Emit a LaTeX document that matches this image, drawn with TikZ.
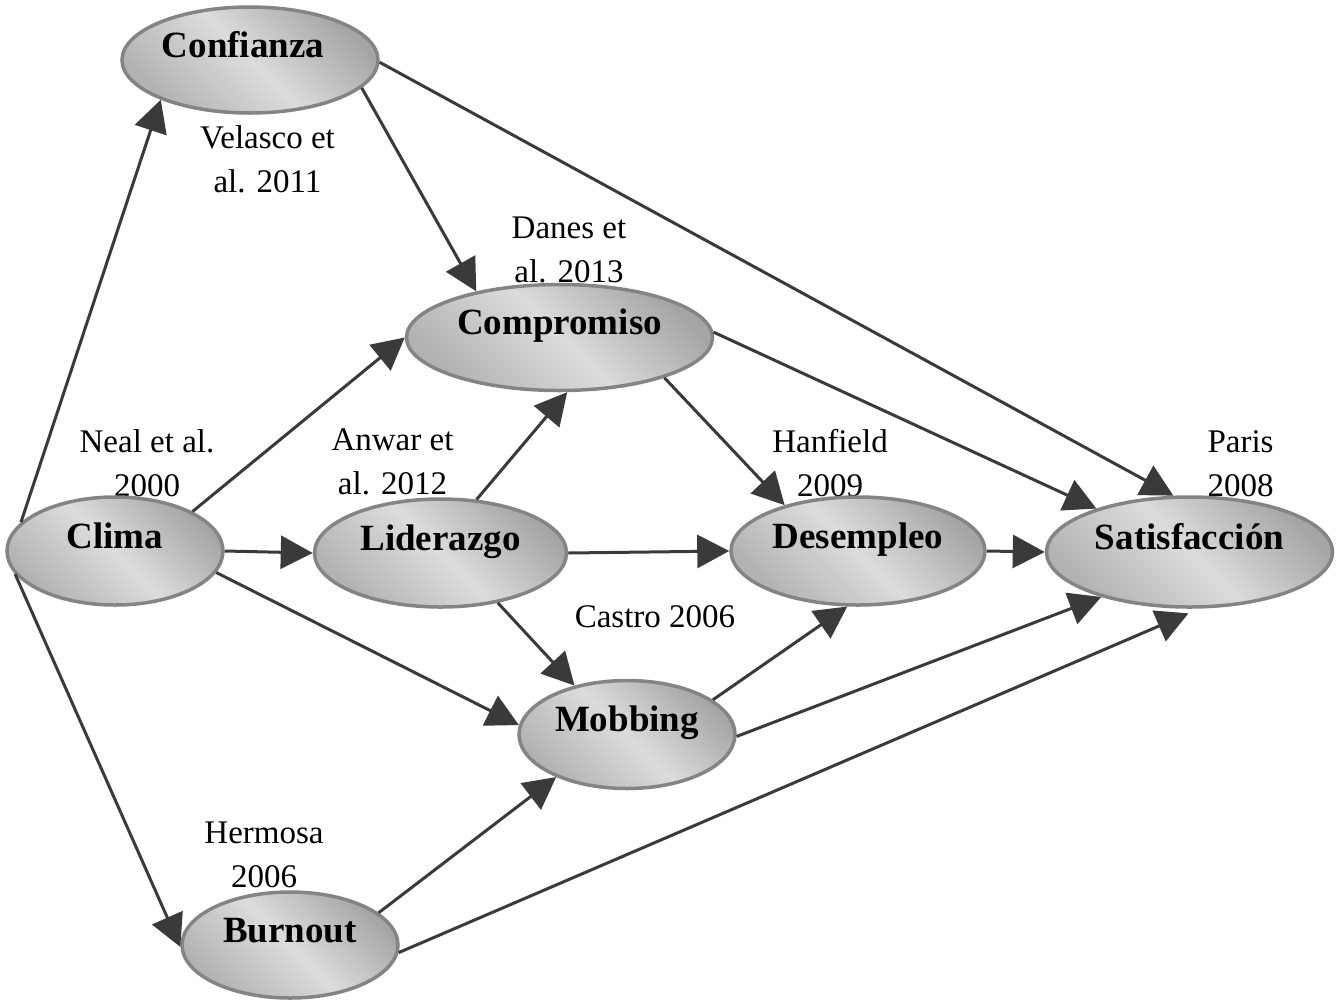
\documentclass[tikz,border=0pt]{standalone}
\usepackage{fontspec}
\setmainfont{Liberation Serif}
\usetikzlibrary{shapes.geometric,arrows.meta}
\definecolor{bordgray}{RGB}{132,132,132}
\definecolor{shdark}{RGB}{165,165,165}
\definecolor{shlight}{RGB}{220,220,220}
\definecolor{shmid}{RGB}{178,178,178}
\definecolor{arrgray}{RGB}{58,58,58}
\begin{document}
\begin{tikzpicture}[x=1pt,y=-1pt,
  ell/.style={ellipse, draw=bordgray, line width=3.5pt, inner sep=0pt,
    top color=shdark, bottom color=shmid, middle color=shlight, shading angle=-45,
    font=\bfseries\fontsize{37}{44}\selectfont, text height=0pt, text depth=6pt},
  lbl/.style={font=\fontsize{33}{44}\selectfont, align=center, anchor=base, inner sep=0pt},
  arr/.style={draw=arrgray, line width=3pt, -{Triangle[length=32pt,width=33pt]}}
]
\useasboundingbox (0,0) rectangle (1337,1007);

% labels (behind the ellipses); base anchor = baseline of last line
\node[lbl] (vel) at (267.5,192) {Velasco et\\al. 2011};
\node[lbl] (dan) at (569,282) {Danes et\\al. 2013};
\node[lbl] (neal) at (147,496) {Neal et al.\\2000};
\node[lbl] (anw) at (392.5,494) {Anwar et\\al. 2012};
\node[lbl] (han) at (830,496) {Hanfield\\2009};
\node[lbl] (par) at (1240.5,496) {Paris\\2008};
\node[lbl] (cas) at (655,627) {Castro 2006};
\node[lbl] (her) at (264,887) {Hermosa\\2006};

% ellipses
\node[ell, minimum width=256, minimum height=106] (conf) at (250,60) {Confianza\hspace*{14pt}};
\node[ell, minimum width=306, minimum height=106] (comp) at (559.5,337.5) {Compromiso};
\node[ell, minimum width=216, minimum height=108] (clima) at (115,551) {Clima};
\node[ell, minimum width=252, minimum height=108] (lid) at (440.5,553) {Liderazgo};
\node[ell, minimum width=254, minimum height=108] (des) at (858,551) {Desempleo};
\node[ell, minimum width=286, minimum height=110] (sat) at (1189.5,552) {Satisfacción};
\node[ell, minimum width=216, minimum height=108] (mob) at (627,734.5) {Mobbing};
\node[ell, minimum width=216, minimum height=106] (burn) at (290,945) {Burnout};

% connectors
\draw[arr] (clima.163) -- (conf.204);
\draw[arr] (clima.193) -- (burn.181);
\draw[arr] (clima.27) -- (comp.180);
\draw[arr] (clima.east) -- (lid.west);
\draw[arr] (clima.348) -- (mob.175);
\draw[arr] (conf.346) -- (comp.151);
\draw[arr] (conf.359) -- (sat.106);
\draw[arr] (comp.2) -- (sat.155);
\draw[arr] (comp.339) -- (des.148.5);
\draw[arr] (lid.56) -- (comp.278);
\draw[arr] (lid.east) -- (des.west);
\draw[arr] (lid.319) -- (mob.137);
\draw[arr] (des.east) -- (sat.west);
\draw[arr] (mob.22) -- (des.259);
\draw[arr] (mob.359) -- (sat.207);
\draw[arr] (burn.20) -- (mob.211);
\draw[arr, shorten >=12pt] (burn.356) -- (sat.280);
\end{tikzpicture}
\end{document}
